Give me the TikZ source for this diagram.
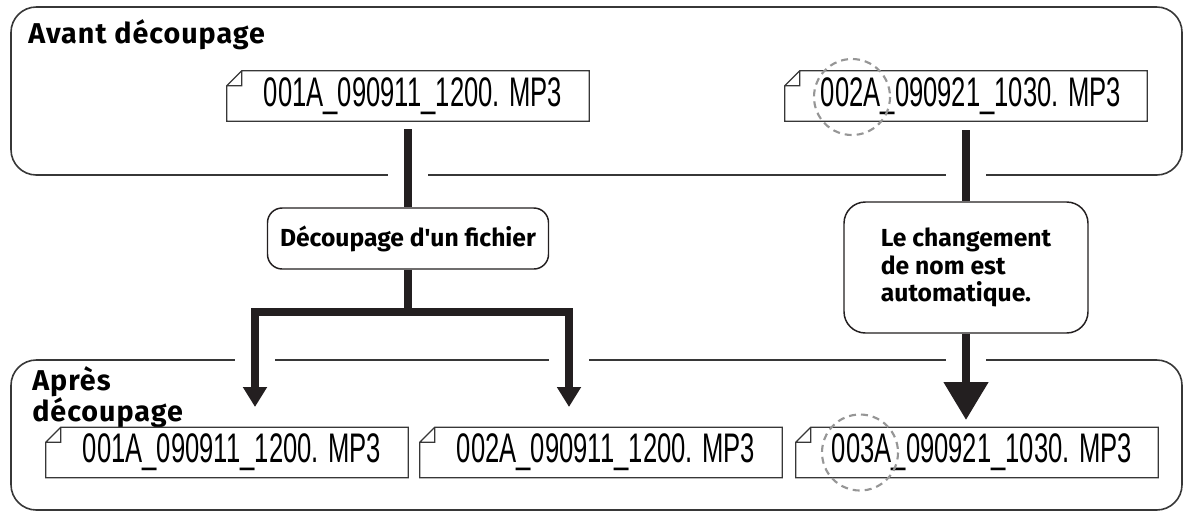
\documentclass[tikz,border=0pt]{standalone}
\usepackage{fontspec}
\setmainfont{Fira Sans}
\newfontfamily\titrefont[LetterSpace=3.5]{Fira Sans}
\newfontfamily\fichierfont[FakeStretch=0.62]{Liberation Sans}
\usetikzlibrary{calc,arrows.meta}
\definecolor{noir}{RGB}{35,31,32}
\definecolor{bord}{RGB}{55,55,55}
\definecolor{gris}{RGB}{150,150,150}

\tikzset{
  panneau/.style={draw=bord,line width=1.2pt,rounded corners=19pt},
  titre/.style={font=\titrefont\fontsize{21.5}{18}\selectfont\bfseries,inner sep=0pt,align=left},
  fichier/.style={minimum width=271.5pt,minimum height=37.5pt,inner sep=0pt,
    font=\fichierfont\fontsize{31}{31}\selectfont,execute at begin node=\hspace*{7.5pt}},
  bulle/.style={draw=noir,line width=1.1pt,fill=white,inner sep=0pt,align=left},
  trait/.style={draw=noir,line width=6pt},
  fleche/.style={trait,-{Triangle[width=17.25pt,length=15pt]}},
  grossefleche/.style={trait,-{Triangle[width=32.25pt,length=28.5pt]}},
  cercle/.style={draw=gris,line width=1.6pt,dash pattern=on 5.25pt off 3.75pt}
}

\begin{document}
\begin{tikzpicture}[x=0.75pt,y=-0.75pt]
  \useasboundingbox (0,0) rectangle (1185,511);
  % les deux cadres
  \draw[panneau] (11,7) rectangle (1182,175);
  \draw[panneau] (11,360) rectangle (1182,510);
  \coordinate (haut) at (0,175);
  \coordinate (bas) at (0,360);
  \node[titre,anchor=base west] (avant) at (28,43) {Avant découpage};
  \node[titre,anchor=north west] (apres) at (32,366) {Après\\découpage};

  % fichiers
  \node[fichier] (f1) at (408,96) {001A\_090911\_1200. MP3};
  \node[fichier] (f2) at (966,96) {002A\_090921\_1030. MP3};
  \node[fichier] (f3) at (227,452.5) {001A\_090911\_1200. MP3};
  \node[fichier] (f4) at (601,452.5) {002A\_090911\_1200. MP3};
  \node[fichier] (f5) at (977,452.5) {003A\_090921\_1030. MP3};
  \foreach \f in {f1,f2,f3,f4,f5}
    \draw[bord,line width=0.9pt] ($(\f.north west)+(0,15)$) -- ($(\f.north west)+(15,0)$)
      -- (\f.north east) -- (\f.south east) -- (\f.south west) -- cycle
      ($(\f.north west)+(0,15)$) -- ++(15,0) -- ++(0,-15);

  % bulles
  \node[bulle,rounded corners=11pt,minimum width=210.75pt,minimum height=45.75pt,
        font=\fontsize{18.5}{20}\selectfont\bfseries] (c1) at (408,238.5)
        {Découpage d\textquotesingle un fichier};
  \node[bulle,rounded corners=16pt,minimum width=183pt,minimum height=98.25pt,
        font=\fontsize{18.5}{20.6}\selectfont\bfseries] (c2) at (966,267.5)
        {Le changement\\de nom est\\automatique.};

  % connecteurs
  \coordinate (j1) at (408,312);
  \coordinate (p3) at (255,407);
  \coordinate (p4) at (569,407);
  \coordinate (p5) at (966,420);
  \foreach \c in {f1,f2}
    \fill[white] ($(\c.south |- haut)+(-20,-4)$) rectangle ++(40,8);
  \foreach \c in {p3,p4,p5}
    \fill[white] ($(\c |- bas)+(-20,-4)$) rectangle ++(40,8);
  \draw[trait,shorten <=6pt] (f1.south) -- (c1.north);
  \draw[fleche] (c1.south) -- (j1) -| (p3);
  \draw[fleche] (j1) -| (p4);
  \draw[trait,shorten <=6.75pt] (f2.south) -- (c2.north);
  \draw[grossefleche] (c2.south) -- (p5);

  % cercles pointillés
  \draw[cercle] ($(f2.center)+(-114,1)$) circle[radius=38];
  \draw[cercle] ($(f5.center)+(-117,0)$) circle[radius=38];
\end{tikzpicture}
\end{document}
